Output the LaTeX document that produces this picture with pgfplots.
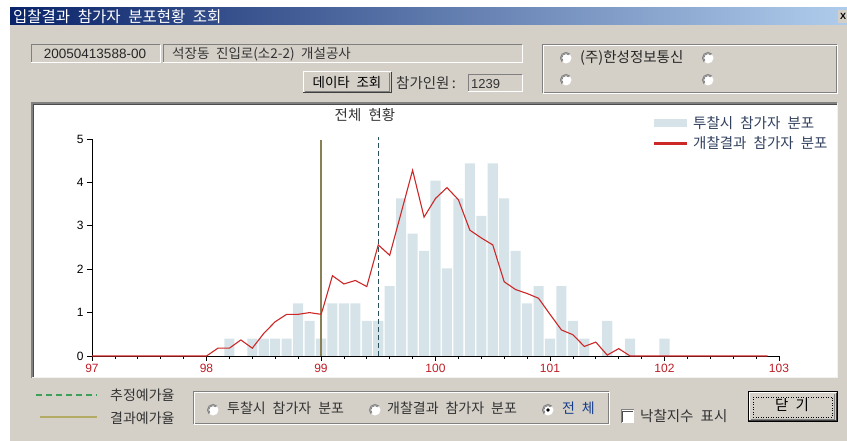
\documentclass[border=0pt]{standalone}
\usepackage{pgfplots}
\pgfplotsset{compat=1.18}
\usepackage{fontspec}
\setmainfont{Liberation Sans}
\newfontfamily\kr[WordSpace=2.2]{Noto Sans CJK KR}
\newcommand\krf[1]{\kr\fontsize{#1}{#1}\selectfont}
\definecolor{dlg}{RGB}{212,208,200}
\definecolor{dkgray}{RGB}{128,128,128}
\definecolor{titleL}{RGB}{10,36,106}
\definecolor{titleR}{RGB}{176,204,236}
\definecolor{barcol}{RGB}{214,228,233}
\definecolor{redl}{RGB}{204,40,40}
\definecolor{olivev}{RGB}{138,128,86}
\definecolor{dteal}{RGB}{40,80,90}
\definecolor{tickred}{RGB}{190,30,40}
\definecolor{legtext}{RGB}{50,65,95}
\definecolor{greendash}{RGB}{60,160,90}
\definecolor{olivel}{RGB}{180,172,100}
\definecolor{radblue}{RGB}{20,60,140}
\pgfplotsset{
  barleg/.style={legend image code/.code={\fill[barcol] (0pt,-3.5pt) rectangle (32pt,3.5pt);}},
  redleg/.style={legend image code/.code={\fill[redl] (0pt,-0.95pt) rectangle (32pt,0.95pt);}},
}
\newcommand\sunken[4]{%
  \draw[dkgray,line width=1] (#1,#4)--(#1,#2)--(#3,#2);
  \draw[white,line width=1] (#3,#2)--(#3,#4)--(#1,#4);}
\newcommand\raised[4]{%
  \fill[dlg] (#1,#2) rectangle (#3,#4);
  \draw[white,line width=1] (#1,#4)--(#1,#2)--(#3,#2);
  \draw[black!75,line width=1] (#3,#2)--(#3,#4)--(#1,#4);
  \draw[dkgray,line width=0.8] (#3-1.5,#2+1.5)--(#3-1.5,#4-1.5)--(#1+1.5,#4-1.5);}
\newcommand\etched[4]{%
  \draw[dkgray,line width=0.8] (#1,#2) rectangle (#3,#4);
  \draw[white,line width=0.8] (#1+1,#2+1) rectangle (#3+1,#4+1);}
\newcommand\radio[2]{%
  \fill[white] (#1,#2) circle (5.5);
  \draw[dkgray,line width=1] (#1,#2) ++(135:5.5) arc (135:315:5.5);
  \draw[black!60,line width=0.6] (#1,#2) ++(135:4.3) arc (135:315:4.3);}
\begin{document}
\begin{tikzpicture}
\begin{scope}[x=1pt,y=-1pt,shift={(0pt,441pt)}]
  \fill[white] (0,0) rectangle (847,441);
  \fill[dlg] (10,8) rectangle (847,441);
  \shade[left color=titleL, right color=titleR] (10,8) rectangle (847,25);
  \node[anchor=west,text=white,font=\krf{15.5},inner sep=0] at (13,16.5) {입찰결과 참가자 분포현황 조회};
  \fill[dlg] (838,10) rectangle (847,23);
  \node[anchor=west,font=\bfseries\fontsize{9}{9}\selectfont,inner sep=0] at (840,16.5) {X};
  % top fields
  \sunken{31}{45}{160}{63}
  \node[font=\fontsize{13.5}{13.5}\selectfont,text=black!85] at (95,54) {20050413588-00};
  \sunken{163}{45}{522}{63}
  \node[anchor=west,font=\krf{13.5},text=black!80,inner sep=0] at (172,54) {석장동 진입로(소2-2) 개설공사};
  \raised{303}{72}{391}{93}
  \node[font=\krf{13.5}] at (347,82.5) {데이타 조회};
  \node[anchor=west,font=\krf{14.5},text=black!80,inner sep=0] at (396,83) {참가인원\,:};
  \sunken{468}{75}{522}{92}
  \node[anchor=west,font=\fontsize{13}{13}\selectfont,text=black!80,inner sep=0] at (471,84) {1239};
  \etched{542}{44}{836}{92}
  \radio{566}{58}\radio{708}{58}\radio{566}{80}\radio{708}{80}
  \node[anchor=west,font=\krf{14.5},text=black!85,inner sep=0] at (580,58) {(주)한성정보통신};
  % chart panel
  \fill[white] (32,103) rectangle (837,378);
  \draw[dkgray,line width=1.5] (32,378)--(32,103)--(837,103);
  \draw[black!70,line width=0.6] (33.5,378)--(33.5,104.5)--(837,104.5);
  \draw[white!90!gray,line width=1] (837,103)--(837,378)--(32,378);
  % bottom
  \draw[greendash,line width=1.2,dash pattern=on 6 off 4] (36,395)--(97,395);
  \node[anchor=west,font=\krf{14},text=black!80,inner sep=0] at (110,395) {추정예가율};
  \draw[olivel,line width=1.4] (40,417)--(97,417);
  \node[anchor=west,font=\krf{14},text=black!80,inner sep=0] at (110,418) {결과예가율};
  \etched{193}{391}{608}{423}
  \radio{213}{410}\radio{375}{410}\radio{548}{410}
  \fill[black] (548,410) circle (1.8);
  \node[anchor=west,font=\krf{14},text=black!80,inner sep=0] at (227,408.5) {투찰시 참가자 분포};
  \node[anchor=west,font=\krf{14},text=black!80,inner sep=0] at (387,408.5) {개찰결과 참가자 분포};
  \node[anchor=west,font=\krf{14},text=radblue,inner sep=0] at (562,408.5) {전 체};
  \fill[white] (621,410) rectangle (634,423);
  \draw[dkgray,line width=1] (621,423)--(621,410)--(634,410);
  \draw[black!70,line width=0.6] (622.2,422)--(622.2,411.2)--(633,411.2);
  \node[anchor=west,font=\krf{14.5},text=black!80,inner sep=0] at (640,416) {낙찰지수 표시};
  \draw[black,line width=1] (748,392) rectangle (837,422);
  \raised{749}{393}{836}{421}
  \draw[black,line width=0.5,dotted] (753,397) rectangle (832,417);
  \node[font=\krf{14.5}] at (792,405) {닫 기};
  % chart title
  \node[font=\krf{14.5},text=black!80] at (365,115) {전체 현황};
\end{scope}
\begin{axis}[
  at={(92pt,85pt)}, anchor=south west,
  scale only axis, width=687pt, height=217pt,
  xmin=97, xmax=103, ymin=0, ymax=5, clip=false,
  axis x line*=bottom, axis y line*=left,
  axis line style={black,line width=0.8pt},
  xtick={97,98,...,103}, minor xtick={97.2,97.4,...,102.9},
  ytick={0,1,...,5},
  tick align=outside, major tick length=5pt, minor tick length=3pt,
  tick style={black,line width=0.7pt},
  /pgf/number format/assume math mode=true,
  xticklabel style={text=tickred,font=\fontsize{12}{12}\selectfont},
  yticklabel style={font=\fontsize{12}{12}\selectfont},
  legend style={at={(axis description cs:0.8175,1.115)},anchor=north west,draw=none,fill=none,
     font=\krf{14.5},text=legtext,row sep=3pt,column sep=5pt,inner sep=0pt},
  legend cell align=left,
]
\addplot[ybar, bar width=0.088, fill=barcol, draw=none, forget plot] coordinates {
(98.2,0.40) (98.4,0.40) (98.5,0.40) (98.6,0.40) (98.7,0.40) (98.8,1.21) (98.9,0.81) (99.0,0.40)
(99.1,1.21) (99.2,1.21) (99.3,1.21) (99.4,0.81) (99.5,0.81) (99.6,1.61) (99.7,3.63) (99.8,2.82)
(99.9,2.42) (100.0,4.04) (100.1,2.02) (100.2,3.63) (100.3,4.44) (100.4,3.23) (100.5,4.44) (100.6,3.63)
(100.7,2.42) (100.8,1.21) (100.9,1.61) (101.0,0.40) (101.1,1.61) (101.2,0.81) (101.3,0.40) (101.5,0.81)
(101.7,0.40) (102.0,0.40)};
\addplot[olivev, line width=1.2pt, forget plot] coordinates {(99,0) (99,4.97)};
\addplot[dteal, line width=1.1pt, dash pattern=on 5pt off 3pt, forget plot] coordinates {(99.5,0) (99.5,5.04)};
\addplot[redl, line width=1.1pt, forget plot] coordinates {
(97.0,0) (98.0,0) (98.1,0.18) (98.2,0.18) (98.3,0.37) (98.4,0.18) (98.5,0.52) (98.6,0.79)
(98.7,0.96) (98.8,0.96) (98.9,1.0) (99.0,0.96) (99.02,1.12) (99.1,1.85) (99.2,1.66) (99.3,1.74)
(99.4,1.6) (99.5,2.56) (99.6,2.32) (99.7,3.3) (99.8,4.28) (99.9,3.2) (100.0,3.63) (100.1,3.88)
(100.2,3.6) (100.3,2.9) (100.4,2.72) (100.5,2.56) (100.6,1.71) (100.7,1.53) (100.8,1.44) (100.9,1.33)
(101.0,0.96) (101.1,0.6) (101.2,0.49) (101.3,0.22) (101.4,0.32) (101.5,0.02) (101.6,0.17) (101.7,0)
(102.9,0)};
\addlegendimage{barleg}
\addlegendentry{투찰시 참가자 분포}
\addlegendimage{redleg}
\addlegendentry{개찰결과 참가자 분포}
\end{axis}
\pgfresetboundingbox
\path (0pt,0pt) rectangle (847pt,441pt);
\end{tikzpicture}
\end{document}
